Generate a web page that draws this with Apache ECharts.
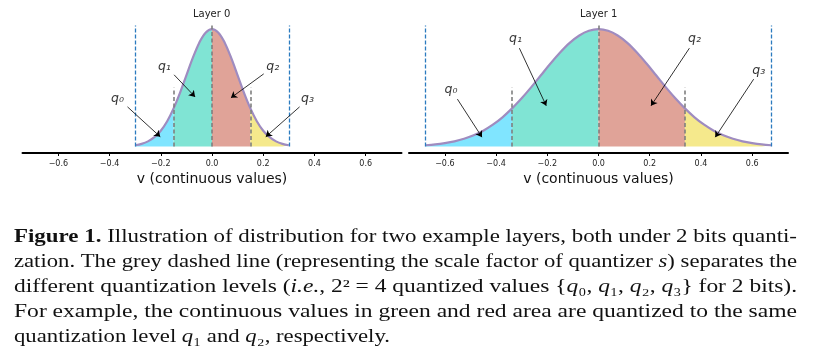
<!DOCTYPE html>
<html><head><meta charset="utf-8">
<script src="https://cdn.jsdelivr.net/npm/echarts@6/dist/echarts.min.js"></script>
<style>html,body{margin:0;padding:0;background:#fff}#c{width:825px;height:361px}</style>
</head><body><div id="c"></div>
<script>
// ---------- data ----------
const titles = ['Layer 0', 'Layer 1'];
const axisName = 'v (continuous values)';
const xTicks = [-0.6, -0.4, -0.2, 0, 0.2, 0.4, 0.6];

const L0_x = [-0.3,-0.275,-0.25,-0.225,-0.2,-0.175,-0.15,-0.125,-0.1,-0.075,-0.05,-0.025,0,
              0.025,0.05,0.075,0.1,0.125,0.15,0.175,0.2,0.225,0.25,0.275,0.3];
const L0_y = [0.011,0.023,0.044,0.080,0.135,0.216,0.325,0.458,0.607,0.755,0.883,0.969,1.000,
              0.969,0.883,0.755,0.607,0.458,0.325,0.216,0.135,0.080,0.044,0.023,0.011];
const L1_x = [-0.675,-0.6375,-0.6,-0.5625,-0.525,-0.4875,-0.45,-0.4125,-0.375,-0.3375,-0.3,-0.2625,-0.225,-0.1875,-0.15,-0.1125,-0.075,-0.0375,0,
              0.0375,0.075,0.1125,0.15,0.1875,0.225,0.2625,0.3,0.3375,0.375,0.4125,0.45,0.4875,0.525,0.5625,0.6,0.6375,0.675];
const L1_y = [0.011,0.018,0.029,0.044,0.066,0.096,0.135,0.186,0.249,0.325,0.411,0.506,0.607,0.707,0.801,0.883,0.946,0.986,1.000,
              0.986,0.946,0.883,0.801,0.707,0.607,0.506,0.411,0.325,0.249,0.186,0.135,0.096,0.066,0.044,0.029,0.018,0.011];

// quantization boundaries (outer = blue clip range, inner = grey scale-factor lines)
const L0_bounds = [-0.3, -0.15, 0, 0.15, 0.3];
const L1_bounds = [-0.675, -0.3375, 0, 0.3375, 0.675];
const greyTops = [0.5, 1.03, 0.5];
const blueTop = 1.03;

// annotations
const qNames = ['q₀', 'q₁', 'q₂', 'q₃'];
const L0_labelX = [-0.369, -0.186, 0.237, 0.373];
const L0_labelY = [0.406, 0.679, 0.679, 0.406];
const L0_tailX  = [-0.330, -0.148, 0.202, 0.342];
const L0_tailY  = [0.338, 0.611, 0.619, 0.338];
const L0_headX  = [-0.202, -0.066, 0.074, 0.210];
const L0_headY  = [0.083, 0.423, 0.415, 0.083];
const L1_labelX = [-0.576, -0.324, 0.375, 0.626];
const L1_labelY = [0.483, 0.917, 0.917, 0.647];
const L1_tailX  = [-0.551, -0.309, 0.355, 0.606];
const L1_tailY  = [0.404, 0.838, 0.838, 0.574];
const L1_headX  = [-0.455, -0.204, 0.205, 0.456];
const L1_headY  = [0.080, 0.347, 0.347, 0.080];

// caption (segments: n = normal, b = bold, i = italic)
const captionLines = [
  [['b', 'Figure 1.'], ['n', ' Illustration of distribution for two example layers, both under 2 bits quanti-']],
  [['n', 'zation. The grey dashed line (representing the scale factor of quantizer '], ['i', 's'], ['n', ') separates the']],
  [['n', 'different quantization levels ('], ['i', 'i.e.'], ['n', ', 2² = 4 quantized values {'], ['i', 'q'], ['n', '₀, '], ['i', 'q'], ['n', '₁, '], ['i', 'q'], ['n', '₂, '], ['i', 'q'], ['n', '₃} for 2 bits).']],
  [['n', 'For example, the continuous values in green and red area are quantized to the same']],
  [['n', 'quantization level '], ['i', 'q'], ['n', '₁ and '], ['i', 'q'], ['n', '₂, respectively.']]
];

// ---------- styles ----------
const fillColors = ['#80e5ff', '#80e4d4', '#e0a398', '#f5e98c'];
const curveColor = '#9f8cc0';
const blueDash = '#2b7bbf';
const greyDash = '#7f7f7f';
const grids = [{left: 22.5, width: 379}, {left: 409, width: 379}];
const titleCenters = [211.7, 598.7];
const capFont = 'Liberation Serif';
const capSize = 18;
const capLeft = 14;
const capTargets = [783, 783, 783, 783, 376];
const capBaselines = [243, 268, 293, 318, 343];

const chart = echarts.init(document.getElementById('c'));

const layers = [
  {x: L0_x, y: L0_y, b: L0_bounds, lx: L0_labelX, ly: L0_labelY, tx: L0_tailX, ty: L0_tailY, hx: L0_headX, hy: L0_headY},
  {x: L1_x, y: L1_y, b: L1_bounds, lx: L1_labelX, ly: L1_labelY, tx: L1_tailX, ty: L1_tailY, hx: L1_headX, hy: L1_headY}
];

const fmt = v => (v < 0 ? '\u2212' : '') + Math.abs(v).toFixed(1);

const series = [];
layers.forEach((L, k) => {
  const pts = L.x.map((xv, i) => [xv, L.y[i]]);
  for (let s = 0; s < 4; s++) {
    const lo = L.b[s] - 1e-9, hi = L.b[s + 1] + 1e-9;
    series.push({
      type: 'line', xAxisIndex: k, yAxisIndex: k, smooth: 0.35, symbol: 'none', silent: true,
      lineStyle: {width: 0}, areaStyle: {color: fillColors[s], opacity: 1},
      data: pts.filter(p => p[0] >= lo && p[0] <= hi), z: 1
    });
  }
  series.push({
    type: 'line', xAxisIndex: k, yAxisIndex: k, smooth: 0.35, symbol: 'none', silent: true,
    lineStyle: {width: 2.2, color: curveColor}, data: pts, z: 2
  });
  const inner = L.b.slice(1, 4);
  series.push({
    type: 'lines', coordinateSystem: 'cartesian2d', xAxisIndex: k, yAxisIndex: k, silent: true, z: 3,
    lineStyle: {color: greyDash, width: 1.6, type: [4, 2.5], opacity: 1},
    data: inner.map((xv, i) => ({coords: [[xv, 0], [xv, greyTops[i]]]}))
  });
  const outer = [L.b[0], L.b[4]];
  series.push({
    type: 'lines', coordinateSystem: 'cartesian2d', xAxisIndex: k, yAxisIndex: k, silent: true, z: 3,
    lineStyle: {color: blueDash, width: 1.3, type: [4, 2], opacity: 1},
    data: outer.map(xv => ({coords: [[xv, 0], [xv, blueTop]]}))
  });
  series.push({
    type: 'lines', coordinateSystem: 'cartesian2d', xAxisIndex: k, yAxisIndex: k, silent: true, z: 4,
    symbol: ['none', 'arrow'], symbolSize: 6,
    lineStyle: {color: '#000', width: 0.8, opacity: 1},
    data: L.tx.map((t, i) => ({coords: [[t, L.ty[i]], [L.hx[i], L.hy[i]]]}))
  });
  series.push({
    type: 'scatter', xAxisIndex: k, yAxisIndex: k, silent: true, z: 5,
    symbolSize: 2, itemStyle: {color: 'rgba(0,0,0,0)'},
    data: L.lx.map((xv, i) => [xv, L.ly[i], qNames[i]]),
    label: {show: true, position: 'inside', formatter: p => p.data[2],
      fontFamily: 'DejaVu Sans', fontStyle: 'italic', fontSize: 12.5, color: '#000'}
  });
});

// caption
const cv = document.createElement('canvas').getContext('2d');
function segFont(t) {
  return (t === 'i' ? 'italic ' : '') + (t === 'b' ? 'bold ' : '') + capSize + 'px "' + capFont + '"';
}
const richStyles = {
  b: {fontFamily: capFont, fontSize: capSize, fontWeight: 'bold', fill: '#111'},
  i: {fontFamily: capFont, fontSize: capSize, fontStyle: 'italic', fill: '#111'}
};
const graphics = captionLines.map((line, li) => {
  let w = 0, str = '';
  line.forEach(([t, s]) => {
    cv.font = segFont(t);
    w += cv.measureText(s).width;
    str += (t === 'n') ? s : ('{' + t + '|' + s + '}');
  });
  return {
    type: 'text', x: capLeft, y: capBaselines[li] - 6, scaleX: capTargets[li] / w, silent: true,
    style: {text: str, rich: richStyles, fontFamily: capFont, fontSize: capSize, fill: '#111',
      align: 'left', verticalAlign: 'middle'}
  };
});

chart.setOption({
  animation: false,
  backgroundColor: '#fff',
  title: titles.map((t, k) => ({
    text: t, left: titleCenters[k], top: 9, textAlign: 'center', padding: 0,
    textStyle: {fontSize: 10, fontWeight: 'normal', color: '#222', fontFamily: 'DejaVu Sans'}
  })),
  grid: grids.map(g => ({left: g.left, width: g.width, top: 17.4, height: 135.6})),
  xAxis: grids.map((g, k) => ({
    type: 'value', gridIndex: k, min: -0.74, max: 0.74,
    name: axisName, nameLocation: 'middle', nameGap: 19,
    nameTextStyle: {fontSize: 14, color: '#111', fontFamily: 'DejaVu Sans'},
    axisLine: {onZero: false, lineStyle: {color: '#000', width: 2}},
    axisTick: {show: true, length: 3, customValues: xTicks, lineStyle: {color: '#000', width: 1}},
    axisLabel: {customValues: xTicks, formatter: fmt, fontSize: 8, color: '#222', margin: 7, fontFamily: 'DejaVu Sans'},
    splitLine: {show: false}
  })),
  yAxis: grids.map((g, k) => ({
    type: 'value', gridIndex: k, min: -0.055, max: 1.1, show: false, splitLine: {show: false}
  })),
  series: series,
  graphic: graphics
});
</script></body></html>
